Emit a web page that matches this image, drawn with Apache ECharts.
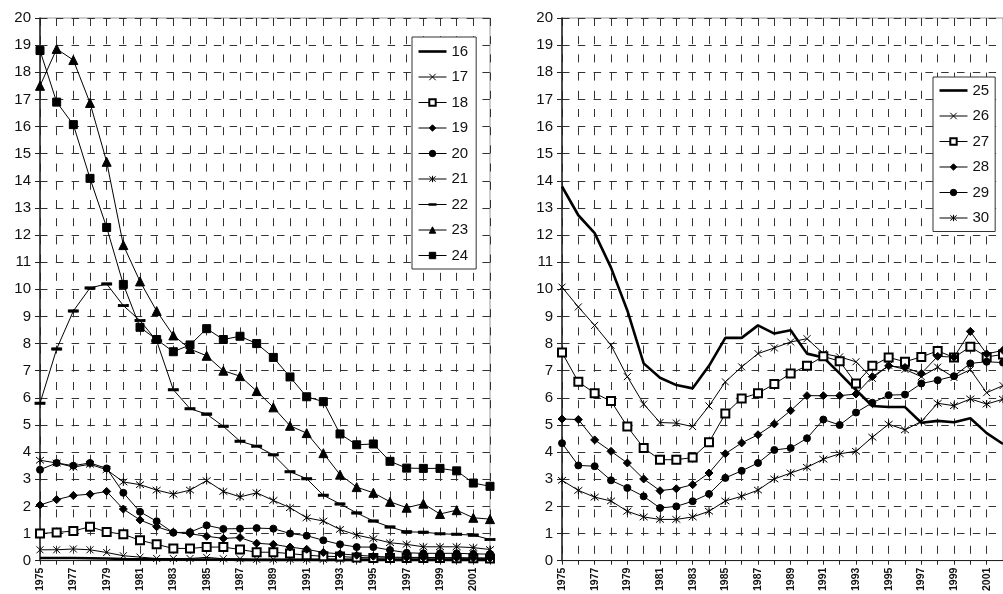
<!DOCTYPE html>
<html><head><meta charset="utf-8">
<script src="https://cdn.jsdelivr.net/npm/echarts@6/dist/echarts.min.js"></script>
<style>html,body{margin:0;padding:0;background:#fff}#c{width:1003px;height:594px}</style>
</head><body><div id="c"></div>
<script>
// ---------- data ----------
const years = ['1975','1976','1977','1978','1979','1980','1981','1982','1983','1984','1985','1986','1987','1988','1989','1990','1991','1992','1993','1994','1995','1996','1997','1998','1999','2000','2001','2002'];
const yMin = 0, yMax = 20, yStep = 1;

// left panel
const s16 = [0.1,0.1,0.1,0.09,0.08,0.06,0.05,0.05,0.04,0.04,0.04,0.04,0.03,0.03,0.03,0.03,0.03,0.03,0.03,0.03,0.03,0.03,0.03,0.03,0.03,0.03,0.03,0.03];
const s17 = [0.4,0.4,0.43,0.4,0.3,0.18,0.13,0.08,0.08,0.08,0.12,0.07,0.07,0.05,0.05,0.05,0.05,0.05,0.05,0.05,0.05,0.05,0.05,0.05,0.05,0.05,0.05,0.05];
const s18 = [1.0,1.04,1.09,1.25,1.06,0.97,0.75,0.6,0.45,0.45,0.5,0.5,0.41,0.31,0.31,0.26,0.2,0.16,0.15,0.12,0.1,0.1,0.1,0.1,0.1,0.09,0.09,0.08];
const s19 = [2.05,2.25,2.4,2.45,2.55,1.9,1.5,1.25,1.05,0.99,0.9,0.82,0.85,0.64,0.6,0.5,0.42,0.3,0.25,0.2,0.16,0.13,0.12,0.12,0.11,0.11,0.1,0.1];
const s20 = [3.35,3.6,3.5,3.6,3.4,2.5,1.8,1.45,1.03,1.05,1.3,1.17,1.18,1.2,1.18,1.0,0.92,0.75,0.6,0.5,0.5,0.39,0.29,0.27,0.27,0.27,0.25,0.24];
const s21 = [3.7,3.6,3.45,3.55,3.35,2.9,2.8,2.6,2.45,2.6,2.95,2.55,2.35,2.5,2.22,1.95,1.58,1.46,1.15,0.94,0.81,0.66,0.6,0.51,0.51,0.51,0.48,0.41];
const s22 = [5.8,7.8,9.2,10.05,10.2,9.4,8.85,8.1,6.3,5.6,5.4,4.95,4.4,4.22,3.9,3.28,3.02,2.41,2.09,1.76,1.46,1.24,1.06,1.05,0.99,0.97,0.94,0.78];
const s23 = [17.5,18.86,18.45,16.87,14.7,11.63,10.29,9.2,8.3,7.8,7.55,7.0,6.8,6.25,5.65,4.97,4.7,3.96,3.17,2.71,2.5,2.17,1.95,2.1,1.72,1.86,1.58,1.53];
const s24 = [18.8,16.9,16.07,14.09,12.28,10.18,8.6,8.15,7.7,7.95,8.55,8.15,8.27,8.0,7.49,6.77,6.04,5.86,4.67,4.27,4.3,3.66,3.41,3.4,3.4,3.31,2.86,2.74];

// right panel
const s25 = [13.79,12.73,12.07,10.8,9.22,7.27,6.74,6.47,6.35,7.18,8.21,8.21,8.67,8.37,8.49,7.63,7.49,6.9,6.29,5.7,5.66,5.66,5.08,5.15,5.1,5.25,4.7,4.3];
const s26 = [10.08,9.35,8.67,7.94,6.78,5.77,5.09,5.07,4.94,5.7,6.59,7.14,7.63,7.84,8.06,8.18,7.63,7.51,7.33,6.72,7.2,7.05,6.78,7.13,6.75,7.04,6.19,6.45];
const s27 = [7.67,6.59,6.17,5.88,4.94,4.15,3.72,3.72,3.8,4.36,5.42,5.98,6.17,6.51,6.9,7.18,7.53,7.35,6.53,7.18,7.49,7.33,7.51,7.73,7.49,7.88,7.51,7.6];
const s28 = [5.22,5.2,4.45,4.03,3.6,3.01,2.58,2.65,2.8,3.23,3.94,4.34,4.64,5.04,5.53,6.08,6.08,6.08,6.14,6.78,7.18,7.12,6.9,7.53,7.5,8.45,7.62,7.75];
const s29 = [4.33,3.51,3.48,2.96,2.68,2.37,1.94,2.0,2.19,2.46,3.05,3.31,3.6,4.08,4.15,4.51,5.2,5.0,5.46,5.82,6.1,6.12,6.53,6.65,6.8,7.27,7.33,7.3];
const s30 = [2.96,2.59,2.34,2.2,1.82,1.61,1.52,1.52,1.61,1.82,2.2,2.37,2.6,3.01,3.23,3.44,3.74,3.94,4.03,4.55,5.03,4.82,5.13,5.8,5.71,5.96,5.77,5.95];

const leftNames = ['16','17','18','19','20','21','22','23','24'];
const rightNames = ['25','26','27','28','29','30'];
const leftData = [s16,s17,s18,s19,s20,s21,s22,s23,s24];
const rightData = [s25,s26,s27,s28,s29,s30];

// ---------- styles ----------
const X_PATH = 'path://M0,0L10,10M10,0L0,10';
const STAR_PATH = 'path://M0,1L10,9M10,1L0,9M5,0L5,10';
const THICK_ICON = 'path://M0,0L28,0L28,2.6L0,2.6Z';
const DASH_ICON = 'path://M0,0.8L28,0.8L28,1.8L0,1.8ZM10,0L18,0L18,2.6L10,2.6Z';

const styleMap = {
  '16': {sym:'none', size:0, w:2.6},
  '17': {sym:X_PATH, size:7},
  '18': {sym:'emptyRect', size:8},
  '19': {sym:'diamond', size:8},
  '20': {sym:'circle', size:7},
  '21': {sym:STAR_PATH, size:8},
  '22': {sym:'rect', size:[9,2.5]},
  '23': {sym:'triangle', size:9},
  '24': {sym:'rect', size:8},
  '25': {sym:'none', size:0, w:2.6},
  '26': {sym:X_PATH, size:7},
  '27': {sym:'emptyRect', size:8},
  '28': {sym:'diamond', size:8},
  '29': {sym:'circle', size:7},
  '30': {sym:STAR_PATH, size:8}
};

function mkSeries(name, data, gi) {
  const st = styleMap[name];
  return {
    name: name, type: 'line', xAxisIndex: gi, yAxisIndex: gi,
    data: data,
    symbol: st.sym, symbolSize: st.size, showSymbol: st.sym !== 'none',
    lineStyle: {color:'#000', width: st.w || 1},
    itemStyle: {color:'#000', borderColor:'#000', borderWidth: 1},
    emphasis: {disabled: true},
    z: 3
  };
}

function legendItems(names) {
  return names.map(n => {
    if (n === '16' || n === '25') return {name:n, icon:THICK_ICON, itemStyle:{borderWidth:0}};
    if (n === '22') return {name:n, icon:DASH_ICON, itemStyle:{borderWidth:0}};
    return {name:n};
  });
}

const FONT = 'Liberation Sans, Arial, sans-serif';

function xAxis(gi) {
  return {
    type:'category', gridIndex: gi, data: years, boundaryGap: false,
    axisLine: {lineStyle:{color:'#222', width:1.2}},
    axisTick: {show:true, interval:0, length:4, lineStyle:{color:'#222'}},
    axisLabel: {interval:1, rotate:90, margin:7, fontSize:10.5, fontWeight:'bold',
      fontFamily:FONT, color:'#111'},
    splitLine: {show:true, interval:0, lineStyle:{color:'#333', width:1, type:[8,10.2]}}
  };
}
function yAxis(gi) {
  return {
    type:'value', gridIndex: gi, min:yMin, max:yMax, interval:yStep,
    axisLine: {show:true, lineStyle:{color:'#222', width:1.5}},
    axisTick: {show:true, length:5, lineStyle:{color:'#222'}},
    axisLabel: {margin:9, fontSize:15, fontFamily:FONT, color:'#111'},
    splitLine: {show:true, lineStyle:{color:'#333', width:1, type:[7.5,8.3]}}
  };
}

const legendCommon = {
  orient:'vertical', backgroundColor:'#fff', borderColor:'#333', borderWidth:1,
  itemWidth:28, itemHeight:8, itemGap:10.5,
  textStyle:{fontSize:15, fontFamily:FONT, color:'#111'},
  itemStyle:{borderWidth:1},
  lineStyle:{width:1},
  selectedMode:false, z:10
};

const option = {
  animation:false,
  backgroundColor:'#fff',
  grid:[
    {left:40, top:18, width:450, height:545, show:true, borderColor:'#999', borderWidth:1, backgroundColor:'transparent'},
    {left:562, top:18, width:450, height:545, show:true, borderColor:'#999', borderWidth:1, backgroundColor:'transparent'}
  ],
  xAxis:[xAxis(0), xAxis(1)],
  yAxis:[yAxis(0), yAxis(1)],
  legend:[
    Object.assign({}, legendCommon, {left:412, top:37, padding:[7,8,6,6], data:legendItems(leftNames)}),
    Object.assign({}, legendCommon, {left:933, top:77, padding:[6,6,6,6], data:legendItems(rightNames)})
  ],
  series: leftNames.map((n,i)=>mkSeries(n,leftData[i],0)).concat(rightNames.map((n,i)=>mkSeries(n,rightData[i],1)))
};

const chart = echarts.init(document.getElementById('c'), null, {renderer:'canvas'});
chart.setOption(option);
</script>
</body></html>
